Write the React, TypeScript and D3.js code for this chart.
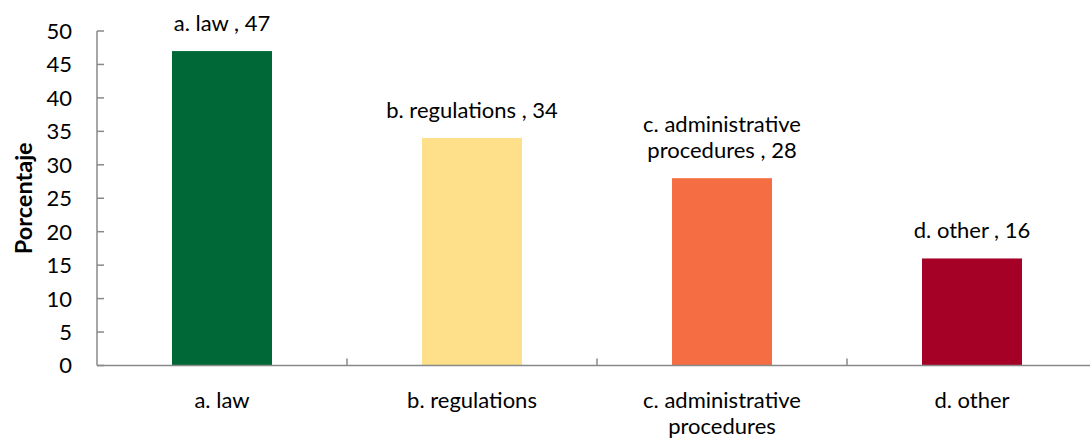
import React from "react";
import * as d3 from "d3";

const categories = ["a. law", "b. regulations", "c. administrative procedures", "d. other"];
const values = [47, 34, 28, 16];
const colors = ["#006837", "#FEE08B", "#F46D43", "#A50026"];
const categoryLabelLines = [["a. law"], ["b. regulations"], ["c. administrative", "procedures"], ["d. other"]];
const dataLabelLines = [["a. law , 47"], ["b. regulations , 34"], ["c. administrative", "procedures , 28"], ["d. other , 16"]];
const yTicks = [0, 5, 10, 15, 20, 25, 30, 35, 40, 45, 50];
const yTitle = "Porcentaje";

const W = 1090;
const H = 443;
const FONT = "Lato, 'Open Sans', sans-serif";

export default function App() {
  const x = d3.scaleBand<string>().domain(categories).range([97, 1097]).paddingInner(0.6).paddingOuter(0.3);
  const y = d3.scaleLinear().domain([0, 50]).range([365.5, 31]);
  const step = x.step();
  const axisColor = "#898989";
  const lineH = 26;
  const fs = 22;
  return (
    <svg width={W} height={H} style={{ position: "absolute", left: 0, top: 0, background: "#fff" }} fontFamily={FONT}>
      {/* bars */}
      {categories.map((c, i) => (
        <rect key={c} x={x(c)} y={y(values[i])} width={x.bandwidth()} height={y(0) - y(values[i])} fill={colors[i]} />
      ))}
      {/* y axis */}
      <line x1={97} x2={97} y1={y(50)} y2={y(0)} stroke={axisColor} strokeWidth={1.5} />
      {yTicks.map((t) => (
        <g key={t}>
          <line x1={97} x2={104} y1={y(t)} y2={y(t)} stroke={axisColor} strokeWidth={1.5} />
          <text x={72} y={y(t)} dy="0.36em" textAnchor="end" fontSize={fs} fill="#000">{t}</text>
        </g>
      ))}
      {/* x axis */}
      <line x1={97} x2={W} y1={y(0)} y2={y(0)} stroke={axisColor} strokeWidth={1.5} />
      {categories.map((c, i) => (
        <line key={"t" + c} x1={97 + step * (i + 1)} x2={97 + step * (i + 1)} y1={y(0)} y2={y(0) - 7} stroke={axisColor} strokeWidth={1.5} />
      ))}
      {categories.map((c, i) => (
        <text key={"xl" + c} x={(x(c) as number) + x.bandwidth() / 2} y={408} textAnchor="middle" fontSize={fs} fill="#000">
          {categoryLabelLines[i].map((l, j) => (
            <tspan key={j} x={(x(c) as number) + x.bandwidth() / 2} dy={j === 0 ? 0 : lineH}>{l}</tspan>
          ))}
        </text>
      ))}
      {/* data labels */}
      {categories.map((c, i) => {
        const lines = dataLabelLines[i];
        const cx = (x(c) as number) + x.bandwidth() / 2;
        const base = y(values[i]) - 20 - (lines.length - 1) * lineH;
        return (
          <text key={"dl" + c} x={cx} y={base} textAnchor="middle" fontSize={fs} fill="#000">
            {lines.map((l, j) => (
              <tspan key={j} x={cx} dy={j === 0 ? 0 : lineH}>{l}</tspan>
            ))}
          </text>
        );
      })}
      {/* y title */}
      <text transform={`translate(32, ${(y(0) + y(50)) / 2}) rotate(-90)`} textAnchor="middle" fontSize={23.5} fontWeight="bold" fill="#000">
        {yTitle}
      </text>
    </svg>
  );
}
